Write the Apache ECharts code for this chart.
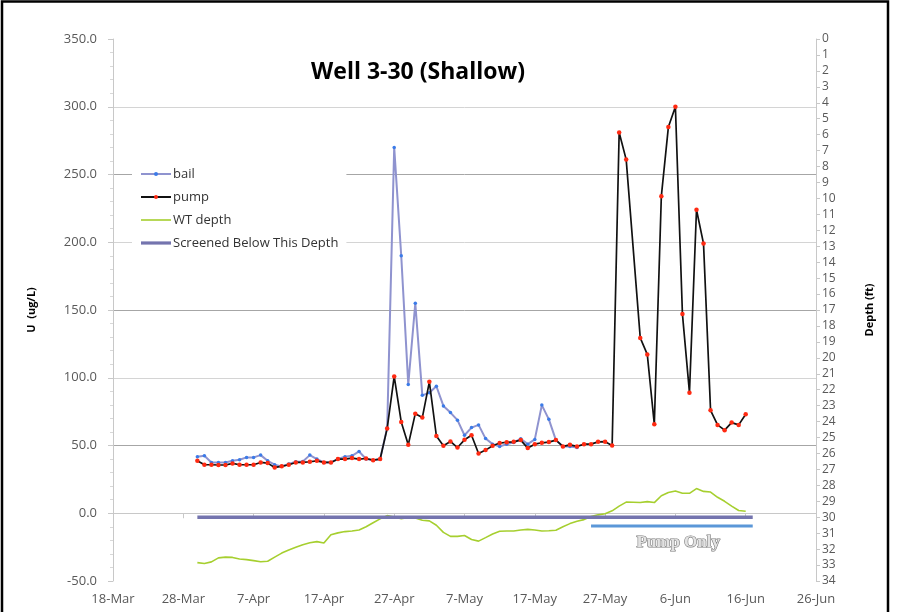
<!DOCTYPE html>
<html>
<head>
<meta charset="utf-8">
<script src="https://cdn.jsdelivr.net/npm/echarts@6/dist/echarts.min.js"></script>
<style>
  html, body { margin: 0; padding: 0; background: #fff; }
  #chart { width: 903px; height: 612px; }
</style>
</head>
<body>
<div id="chart"></div>
<script>
// Sampling days (2011), one per day from 30-Mar to 16-Jun
const sampleDates = [
  '3/30','3/31',
  '4/1','4/2','4/3','4/4','4/5','4/6','4/7','4/8','4/9','4/10',
  '4/11','4/12','4/13','4/14','4/15','4/16','4/17','4/18','4/19','4/20',
  '4/21','4/22','4/23','4/24','4/25','4/26','4/27','4/28','4/29','4/30',
  '5/1','5/2','5/3','5/4','5/5','5/6','5/7','5/8','5/9','5/10',
  '5/11','5/12','5/13','5/14','5/15','5/16','5/17','5/18','5/19','5/20',
  '5/21','5/22','5/23','5/24','5/25','5/26','5/27','5/28','5/29','5/30','5/31',
  '6/1','6/2','6/3','6/4','6/5','6/6','6/7','6/8','6/9','6/10',
  '6/11','6/12','6/13','6/14','6/15','6/16'
];

// U concentration (ug/L), bailed samples (30-Mar .. 23-May)
const bailU = [
  41.7, 42.4, 37.5, 37.5, 37.5, 38.7, 39.5, 41.2, 41.2, 42.9,
  38.7, 35.8, 34.6, 36.3, 38.0, 38.2, 42.9, 40.0, 37.5, 37.5,
  40.0, 41.7, 42.4, 45.6, 40.0, 39.2, 40.0,
  63.0, 270.0, 190.0, 95.0, 155.0, 87.0, 89.0, 93.7, 79.2, 74.3,
  68.7, 57.6, 63.2, 65.2, 55.1, 51.0, 49.3, 51.0, 52.2, 55.0,
  51.0, 54.5, 79.8, 69.3, 54.0, 49.3, 49.3, 48.5
];

// U concentration (ug/L), pumped samples (no sample on 31-May)
const pumpU = [
  38.7, 35.8, 35.8, 35.6, 35.6, 36.8, 35.8, 35.8, 35.8, 37.5,
  37.0, 33.8, 34.6, 35.8, 37.5, 37.5, 38.0, 38.7, 37.5, 37.5,
  40.0, 40.0, 40.7, 40.0, 40.4, 39.2, 40.0,
  62.6, 101.0, 67.4, 50.5, 73.5, 70.6, 97.0, 57.0, 49.8, 53.0,
  48.5, 54.2, 57.6, 44.1, 46.6, 49.8, 51.8, 52.4, 52.7, 54.0,
  48.1, 51.0, 52.0, 52.5, 54.0, 49.3, 50.5, 49.3, 51.0, 51.0,
  52.7, 52.8, 50.0, 281.0, 261.0,
  null,
  129.4, 117.2, 65.7, 234.0, 285.0, 300.0, 147.0, 89.0, 224.0, 199.0,
  76.0, 65.2, 61.3, 66.9, 65.2, 73.1
];

// Water table depth (ft below ground)
const wtDepth = [
  32.85, 32.90, 32.80, 32.55, 32.50, 32.52, 32.62, 32.66, 32.72, 32.79,
  32.76, 32.50, 32.25, 32.05, 31.88, 31.72, 31.60, 31.53, 31.62, 31.10,
  30.98, 30.90, 30.86, 30.80, 30.60, 30.35, 30.10, 29.90, 29.98, 30.10,
  30.02, 30.05, 30.19, 30.23, 30.50, 30.95, 31.20, 31.20, 31.15, 31.40,
  31.50, 31.28, 31.05, 30.88, 30.86, 30.86, 30.80, 30.76, 30.80, 30.86,
  30.85, 30.82, 30.60, 30.40, 30.25, 30.15, 29.95, 29.85, 29.78, 29.60,
  29.30, 29.05, 29.06, 29.08, 29.02, 29.08, 28.65, 28.45, 28.35, 28.50,
  28.50, 28.20, 28.38, 28.42, 28.75, 29.00, 29.30, 29.58, 29.62
];

// Well screen top and the pump-only sampling period
const screenDepth = 30;
const screenSpan = ['3/30', '6/17'];
const pumpOnlyDepth = 30.55;
const pumpOnlySpan = ['5/25', '6/17'];

// Date axis tick labels, every 10 days from 18-Mar
const dateTicks = ['18-Mar', '28-Mar', '7-Apr', '17-Apr', '27-Apr', '7-May',
                   '17-May', '27-May', '6-Jun', '16-Jun', '26-Jun'];

// days since 18-Mar
const ORIGIN = Date.UTC(2011, 2, 18);
function dayOf(s) {
  const [m, d] = s.split('/').map(Number);
  return (Date.UTC(2011, m - 1, d) - ORIGIN) / 86400000;
}
function pairs(dates, values) {
  return values.map((v, i) => [dayOf(dates[i]), v]);
}

const labelFont = 'Open Sans';
const chart = echarts.init(document.getElementById('chart'));

chart.setOption({
  animation: false,
  backgroundColor: '#fff',
  title: {
    text: 'Well 3-30 (Shallow)',
    left: 413, top: 56, textAlign: 'center',
    textStyle: { fontFamily: labelFont, fontWeight: 'bold', fontSize: 23, color: '#000' }
  },
  legend: {
    data: [
      { name: 'bail' },
      { name: 'pump' },
      { name: 'WT depth', icon: 'path://M0,0 H30 V1.6 H0 Z' },
      { name: 'Screened Below This Depth', icon: 'path://M0,0 H30 V3.2 H0 Z' }
    ],
    orient: 'vertical',
    left: 132, top: 159,
    padding: [6, 8, 6, 8],
    itemGap: 5,
    itemWidth: 30, itemHeight: 5,
    symbolKeepAspect: true,
    backgroundColor: '#fff',
    textStyle: { fontFamily: labelFont, fontSize: 13, color: '#333', padding: [0, 0, 0, -3], lineHeight: 18 }
  },
  grid: { left: 113, right: 87, top: 39, bottom: 31 },
  xAxis: {
    type: 'value',
    min: 0, max: 100, interval: 10,
    axisLine: { show: true, lineStyle: { color: '#c8c8c8' } },
    axisTick: { show: true, length: 5, lineStyle: { color: '#c8c8c8' } },
    splitLine: { show: false },
    axisLabel: {
      margin: 12,
      fontFamily: labelFont, fontSize: 13, color: '#595959',
      formatter: v => dateTicks[Math.round(v / 10)]
    }
  },
  yAxis: [
    {
      type: 'value',
      min: -50, max: 350, interval: 50,
      name: 'U  (ug/L)',
      nameLocation: 'middle', nameRotate: 90, nameGap: 76,
      nameTextStyle: { fontFamily: labelFont, fontWeight: 'bold', fontSize: 11, color: '#000' },
      axisLine: { show: true, lineStyle: { color: '#c8c8c8' } },
      axisTick: { show: true, length: 5, lineStyle: { color: '#c8c8c8' } },
      minorTick: { show: true, splitNumber: 5, length: 3, lineStyle: { color: '#d8d8d8' } },
      splitLine: {
        show: true, showMinLine: false, showMaxLine: false,
        lineStyle: { color: ['#d4d4d4', '#a6a6a6'], width: 1 }
      },
      axisLabel: {
        margin: 16,
        fontFamily: labelFont, fontSize: 13, color: '#595959',
        formatter: v => v.toFixed(1)
      }
    },
    {
      type: 'value',
      min: 0, max: 34, interval: 1,
      inverse: true,
      name: 'Depth (ft)',
      nameLocation: 'middle', nameRotate: 90, nameGap: 48,
      nameTextStyle: { fontFamily: labelFont, fontWeight: 'bold', fontSize: 11, color: '#000' },
      axisLine: { show: true, lineStyle: { color: '#c8c8c8' } },
      axisTick: { show: true, inside: false, length: 4, lineStyle: { color: '#c8c8c8' } },
      splitLine: { show: false },
      axisLabel: {
        margin: 6,
        fontFamily: labelFont, fontSize: 12, color: '#595959'
      }
    }
  ],
  series: [
    {
      name: 'bail', type: 'line', yAxisIndex: 0,
      data: pairs(sampleDates, bailU),
      symbol: 'circle', symbolSize: 3.5, showAllSymbol: true,
      itemStyle: { color: '#3b7be8' },
      lineStyle: { color: '#8f93cf', width: 2 },
      z: 3
    },
    {
      name: 'pump', type: 'line', yAxisIndex: 0,
      data: pairs(sampleDates, pumpU),
      connectNulls: true,
      symbol: 'circle', symbolSize: 4.5, showAllSymbol: true,
      itemStyle: { color: '#ff2a12' },
      lineStyle: { color: '#111', width: 1.7 },
      z: 4
    },
    {
      name: 'WT depth', type: 'line', yAxisIndex: 1,
      data: pairs(sampleDates, wtDepth),
      symbol: 'none',
      itemStyle: { color: '#a6cf2f' },
      lineStyle: { color: '#a6cf2f', width: 1.6 },
      z: 2
    },
    {
      name: 'Screened Below This Depth', type: 'line', yAxisIndex: 1,
      data: screenSpan.map(d => [dayOf(d), screenDepth]),
      symbol: 'none',
      itemStyle: { color: '#7474ae' },
      lineStyle: { color: '#7474ae', width: 3.5 },
      z: 3
    },
    {
      name: 'Pump Only', type: 'line', yAxisIndex: 1,
      data: pumpOnlySpan.map(d => [dayOf(d), pumpOnlyDepth]),
      symbol: 'none',
      lineStyle: { color: '#5b97d8', width: 3 },
      z: 3,
      markPoint: {
        symbol: 'rect', symbolSize: 1,
        itemStyle: { color: 'rgba(0,0,0,0)' },
        data: [{ coord: [80.4, 31.6] }],
        label: {
          show: true, position: 'inside',
          formatter: 'Pump Only',
          fontFamily: 'Liberation Serif', fontWeight: 'bold', fontSize: 17,
          color: '#e2e2e2', textBorderColor: '#7a7a7a', textBorderWidth: 1.2
        }
      }
    }
  ],
  graphic: [
    // arrow pointing to the depth axis
    { type: 'line', shape: { x1: 246, y1: 222, x2: 264, y2: 222 },
      style: { stroke: '#5b97d8', lineWidth: 3 } },
    { type: 'polygon', shape: { points: [[262, 216], [272, 222], [262, 228]] },
      style: { fill: '#5b97d8' } },
    // outer frame
    { type: 'polyline', shape: { points: [[2, 612], [2, 1.5], [888, 1.5], [888, 612]] },
      style: { stroke: '#000', lineWidth: 2.5, fill: null } }
  ]
});
</script>
</body>
</html>
